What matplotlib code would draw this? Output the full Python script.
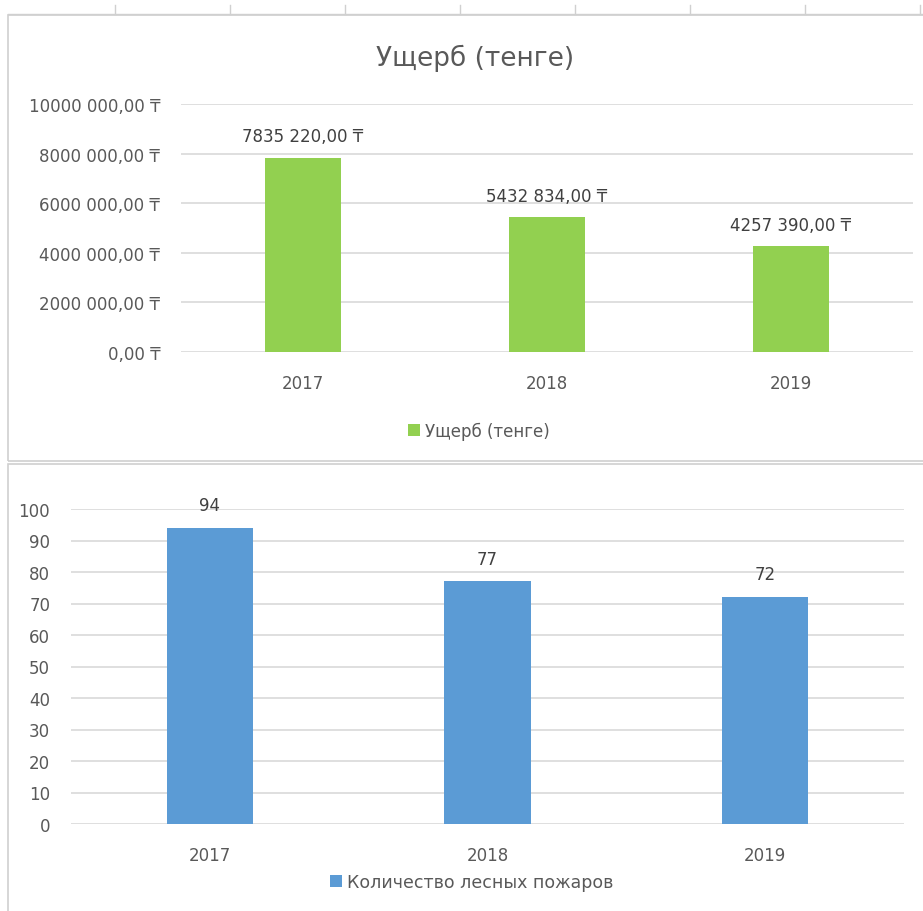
import matplotlib.pyplot as plt
from matplotlib.patches import Rectangle
from matplotlib.lines import Line2D

plt.rcParams['font.family'] = ['DejaVu Sans']

years = ['2017', '2018', '2019']
damage = [7835220, 5432834, 4257390]
fires = [94, 77, 72]
damage_ticks = [0, 2000000, 4000000, 6000000, 8000000, 10000000]
fire_ticks = list(range(0, 101, 10))

grey = '#595959'
grid = '#d9d9d9'
W, H = 923, 912


def tenge(v):
    n = int(round(v))
    if n < 1000:
        return f'{n},00 ₸'
    return f'{n // 1000} {n % 1000:03d},00 ₸'


def fx(x):
    return x / W


def fy(y):
    return 1 - y / H


fig = plt.figure(figsize=(9.23, 9.12), dpi=100)

# рамки диаграмм и кусок листа сверху
for (x0, y0, x1, y1) in [(8, 16, 930, 462), (8, 465, 930, 920)]:
    fig.patches.append(Rectangle((fx(x0), fy(y1)), (x1 - x0) / W, (y1 - y0) / H,
                                 transform=fig.transFigure, fill=False,
                                 edgecolor='#d0d0d0', linewidth=1.2))
for x in [115, 230, 345, 460, 575, 690, 805, 920]:
    fig.add_artist(Line2D([fx(x), fx(x)], [fy(6), fy(15)],
                          transform=fig.transFigure, color='#d0d0d0', linewidth=1))
fig.add_artist(Line2D([fx(8), 1], [fy(15), fy(15)],
                      transform=fig.transFigure, color='#d0d0d0', linewidth=1))


def style(ax):
    for s in ax.spines.values():
        s.set_visible(False)
    ax.tick_params(length=0, colors=grey, labelsize=12)
    ax.tick_params(axis='y', pad=15)
    ax.tick_params(axis='x', pad=16)
    ax.yaxis.grid(True, color=grid, linewidth=1.2)
    ax.set_axisbelow(True)


# Ущерб
ax1 = fig.add_axes([fx(181), fy(353), 732 / W, 248 / H])
b1 = ax1.bar(years, damage, width=0.31, color='#92d050', label='Ущерб (тенге)')
ax1.set_ylim(0, 10000000)
ax1.set_xlim(-0.5, 2.5)
ax1.set_yticks(damage_ticks)
ax1.set_yticklabels([tenge(t) for t in damage_ticks])
style(ax1)
ax1.bar_label(b1, labels=[tenge(v) for v in damage], padding=9, fontsize=12,
              color='#404040')
fig.text(fx(475), fy(58), 'Ущерб (тенге)', fontsize=19, color=grey,
         ha='center', va='center')
fig.legend(handles=[b1], loc='center', bbox_to_anchor=(fx(479), fy(432)),
           frameon=False, fontsize=12, labelcolor=grey, handlelength=0.7,
           handleheight=0.7, handletextpad=0.3)

# Количество пожаров
ax2 = fig.add_axes([fx(71), fy(825), 833 / W, 315 / H])
b2 = ax2.bar(years, fires, width=0.31, color='#5b9bd5', label='Количество лесных пожаров')
ax2.set_ylim(0, 100)
ax2.set_xlim(-0.5, 2.5)
ax2.set_yticks(fire_ticks)
style(ax2)
ax2.bar_label(b2, padding=10, fontsize=12, color='#404040')
fig.legend(handles=[b2], loc='center', bbox_to_anchor=(fx(472), fy(883)),
           frameon=False, fontsize=12.5, labelcolor=grey, handlelength=0.7,
           handleheight=0.7, handletextpad=0.3)

fig.savefig('out.png', dpi=100)
